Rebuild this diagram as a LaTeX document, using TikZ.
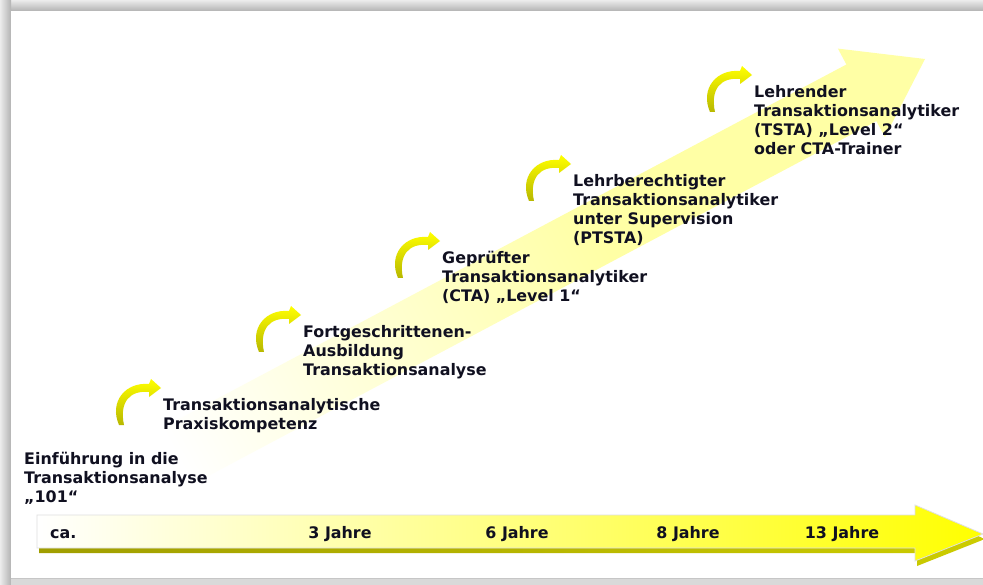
\documentclass[tikz,border=0pt]{standalone}
\usepackage{fontspec}
\setmainfont{DejaVu Sans}
\usetikzlibrary{calc}

\definecolor{pale}{RGB}{255,255,165}
\definecolor{gold}{RGB}{255,255,0}
\definecolor{olivine}{RGB}{160,158,0}
\definecolor{ink}{RGB}{16,16,32}
\pgfdeclarehorizontalshading{rise}{100bp}{color(0bp)=(white); color(25bp)=(white); color(58bp)=(pale); color(100bp)=(pale)}

\begin{document}
\begin{tikzpicture}
    [   x=1pt,y=-1pt,
        stage/.style={anchor=north west,inner sep=0pt,align=left,text=ink,
            font=\fontsize{15.9}{19}\bfseries\selectfont},
        year/.style={anchor=base,inner sep=0pt,text=ink,
            font=\fontsize{15.9}{19}\bfseries\selectfont},
        hop/.pic={\shade[top color=gold,bottom color=gold!72!black]
            (-42,37) .. controls (-52,14) and (-36,-6) .. (-12,-4) -- (-10,-9) -- (0,0)
            -- (-12,9) -- (-12,4) .. controls (-31,2) and (-42,14) .. (-37,37) -- cycle;},
    ]
        \useasboundingbox (0,0) rectangle (983,585);
        % frame
        \fill[gray!45] (0,0) rectangle (983,585);
        \shade[top color=gray!15,bottom color=gray!60] (0,0) rectangle (983,11);
        \shade[left color=gray!15,right color=gray!60] (0,0) rectangle (11,585);
        \fill[white] (11,11) rectangle (983,578);
        \fill[gray!30] (11,579) rectangle (983,585);
        % rising arrow
        \shade[shading=rise,shading angle=28]
            (71.1,476.3) -- (846.4,64.5) -- (837.9,48.6) -- (925,59)
            -- (884.9,137) -- (876.4,121.1) -- (101.1,532.9) -- cycle;
        % time line
        \shade[left color=olivine,right color=gold!80!black]
            (39,520) -- (917,520) -- (917,510) -- (985,539) -- (917,566)
            -- (917,553) -- (39,553) -- cycle;
        \shade[left color=white,right color=gold,draw=gray!25,line width=0.8pt]
            (37,515) -- (915,515) -- (915,505) -- (983,534) -- (915,561)
            -- (915,548) -- (37,548) -- cycle;
        \node[year,anchor=base west] (ca) at (50,538) {ca.};
        \foreach \x/\t in {340/3,517/6,688/8,842/13}
            \node[year] (y-\t) at (\x,538) {\t{} Jahre};
        % stages
        \node[stage] (s0) at (24,452) {Einführung in die\\Transaktionsanalyse\\„101“};
        \node[stage] (s1) at (163,398) {Transaktionsanalytische\\Praxiskompetenz};
        \node[stage] (s2) at (303,325) {Fortgeschrittenen-\\Ausbildung\\Transaktionsanalyse};
        \node[stage] (s3) at (442,251) {Geprüfter\\Transaktionsanalytiker\\(CTA) „Level 1“};
        \node[stage] (s4) at (573,174) {Lehrberechtigter\\Transaktionsanalytiker\\unter Supervision\\(PTSTA)};
        \node[stage] (s5) at (754,85) {Lehrender\\Transaktionsanalytiker\\(TSTA) „Level 2“\\oder CTA-Trainer};
        \foreach \s in {1,...,5}
            \pic at ([shift={(-2,-10)}]s\s.north west) {hop};
    \end{tikzpicture}
\end{document}
